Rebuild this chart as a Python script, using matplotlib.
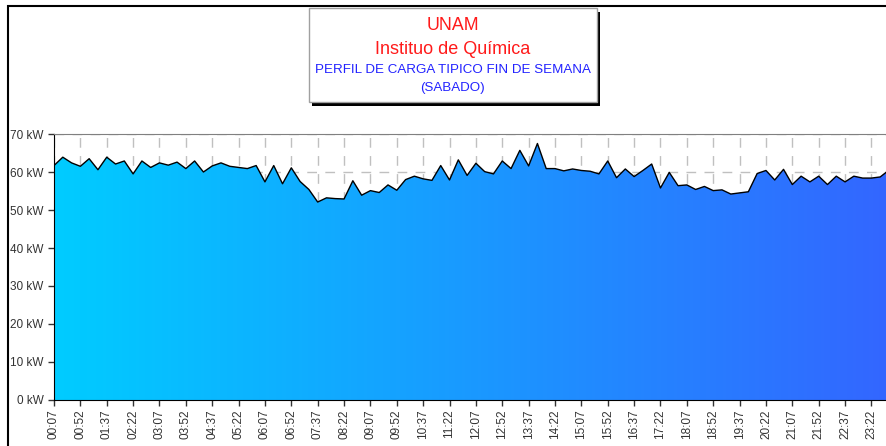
import numpy as np
import matplotlib
matplotlib.use('Agg')
import matplotlib.pyplot as plt
from matplotlib.colors import LinearSegmentedColormap
from matplotlib.patches import Polygon, Rectangle

plt.rcParams['font.family'] = ['Liberation Sans', 'DejaVu Sans']

# load profile, one reading every 15 minutes starting 00:07
load_kw = [61.7, 63.9, 62.4, 61.5, 63.5, 60.6, 63.9, 62.1, 62.9, 59.5, 62.9, 61.2,
           62.4, 61.8, 62.6, 60.9, 62.9, 60.0, 61.6, 62.4, 61.5, 61.2, 60.9, 61.7,
           57.4, 61.7, 56.9, 61.1, 57.5, 55.4, 52.1, 53.2, 53.0, 52.9, 57.7, 53.9,
           55.1, 54.6, 56.6, 55.2, 58.0, 58.9, 58.2, 57.8, 61.7, 57.9, 63.2, 59.1,
           62.3, 60.1, 59.5, 62.9, 60.9, 65.7, 61.6, 67.5, 60.9, 60.9, 60.3, 60.8,
           60.4, 60.2, 59.5, 62.9, 58.5, 60.8, 58.8, 60.4, 62.1, 55.8, 59.9, 56.4,
           56.6, 55.4, 56.2, 55.1, 55.3, 54.2, 54.5, 54.8, 59.6, 60.4, 57.9, 60.7,
           56.7, 58.9, 57.4, 58.9, 56.7, 58.9, 57.4, 58.9, 58.4, 58.4, 58.7, 60.5]

tick_labels = ['00:07', '00:52', '01:37', '02:22', '03:07', '03:52', '04:37', '05:22',
               '06:07', '06:52', '07:37', '08:22', '09:07', '09:52', '10:37', '11:22',
               '12:07', '12:52', '13:37', '14:22', '15:07', '15:52', '16:37', '17:22',
               '18:07', '18:52', '19:37', '20:22', '21:07', '21:52', '22:37', '23:22']

y_ticks = [0, 10, 20, 30, 40, 50, 60, 70]

x = np.arange(len(load_kw))
y = np.array(load_kw)

fig = plt.figure(figsize=(8.87, 4.46), dpi=100)
ax = fig.add_axes([54 / 887, 46 / 446, 835 / 887, 266 / 446])

ax.set_xlim(0, len(load_kw) - 1)
ax.set_ylim(0, 70)

# grid behind the area
ax.set_axisbelow(True)
ax.grid(True, color='#c0c0c0', linestyle=(0, (7, 6)), linewidth=1)

# gradient fill clipped to the area under the curve
cmap = LinearSegmentedColormap.from_list('grad', ['#00ccff', '#3366ff'])
verts = np.vstack([[x[0], 0], np.column_stack([x, y]), [x[-1], 0]])
area = Polygon(verts, closed=True, facecolor='none', edgecolor='none')
ax.add_patch(area)
grad = np.linspace(0, 1, 256).reshape(1, -1)
im = ax.imshow(grad, extent=[0, len(load_kw) - 1, 0, 70], aspect='auto',
               cmap=cmap, zorder=2, origin='lower')
im.set_clip_path(area)
ax.plot(x, y, color='black', linewidth=1, zorder=3)

ax.set_xticks(x[::3])
ax.set_xticklabels(tick_labels, rotation=90, fontsize=8.5, color='#333333')
ax.set_yticks(y_ticks)
ax.set_yticklabels([f'{v} kW' for v in y_ticks], fontsize=8.5, color='#333333')
ax.tick_params(axis='both', direction='out', length=4, width=1, colors='#333333')
ax.tick_params(axis='x', pad=3)

ax.spines['left'].set_color('black')
ax.spines['bottom'].set_color('black')
ax.spines['top'].set_color('#808080')
ax.spines['right'].set_visible(False)

# outer frame (right and bottom sides fall outside the picture)
fig.patches.append(Rectangle((8 / 887, -0.1), 1.2, 440 / 446 + 0.1 - 0.001,
                             transform=fig.transFigure, fill=False,
                             edgecolor='black', linewidth=1.5))

# title box with shadow
bx, by, bw, bh = 309 / 887, 1 - 102 / 446, 288 / 887, 94 / 446
fig.patches.append(Rectangle((bx + 3 / 887, by - 4 / 446), bw, bh,
                             transform=fig.transFigure, facecolor='black',
                             edgecolor='none'))
fig.patches.append(Rectangle((bx, by), bw, bh, transform=fig.transFigure,
                             facecolor='white', edgecolor='#a0a0a0', linewidth=1))
cx = bx + bw / 2
fig.text(cx, 1 - 26 / 446, 'UNAM', color='#ff1a1a', fontsize=12.8, ha='center', va='center')
fig.text(cx, 1 - 49 / 446, 'Instituo de Química', color='#ff1a1a', fontsize=13,
         ha='center', va='center')
fig.text(cx, 1 - 70 / 446, 'PERFIL DE CARGA TIPICO FIN DE SEMANA', color='#2222ff',
         fontsize=9.6, ha='center', va='center')
fig.text(cx, 1 - 88 / 446, '(SABADO)', color='#2222ff', fontsize=9.6,
         ha='center', va='center')

fig.savefig('out.png', dpi=100)
